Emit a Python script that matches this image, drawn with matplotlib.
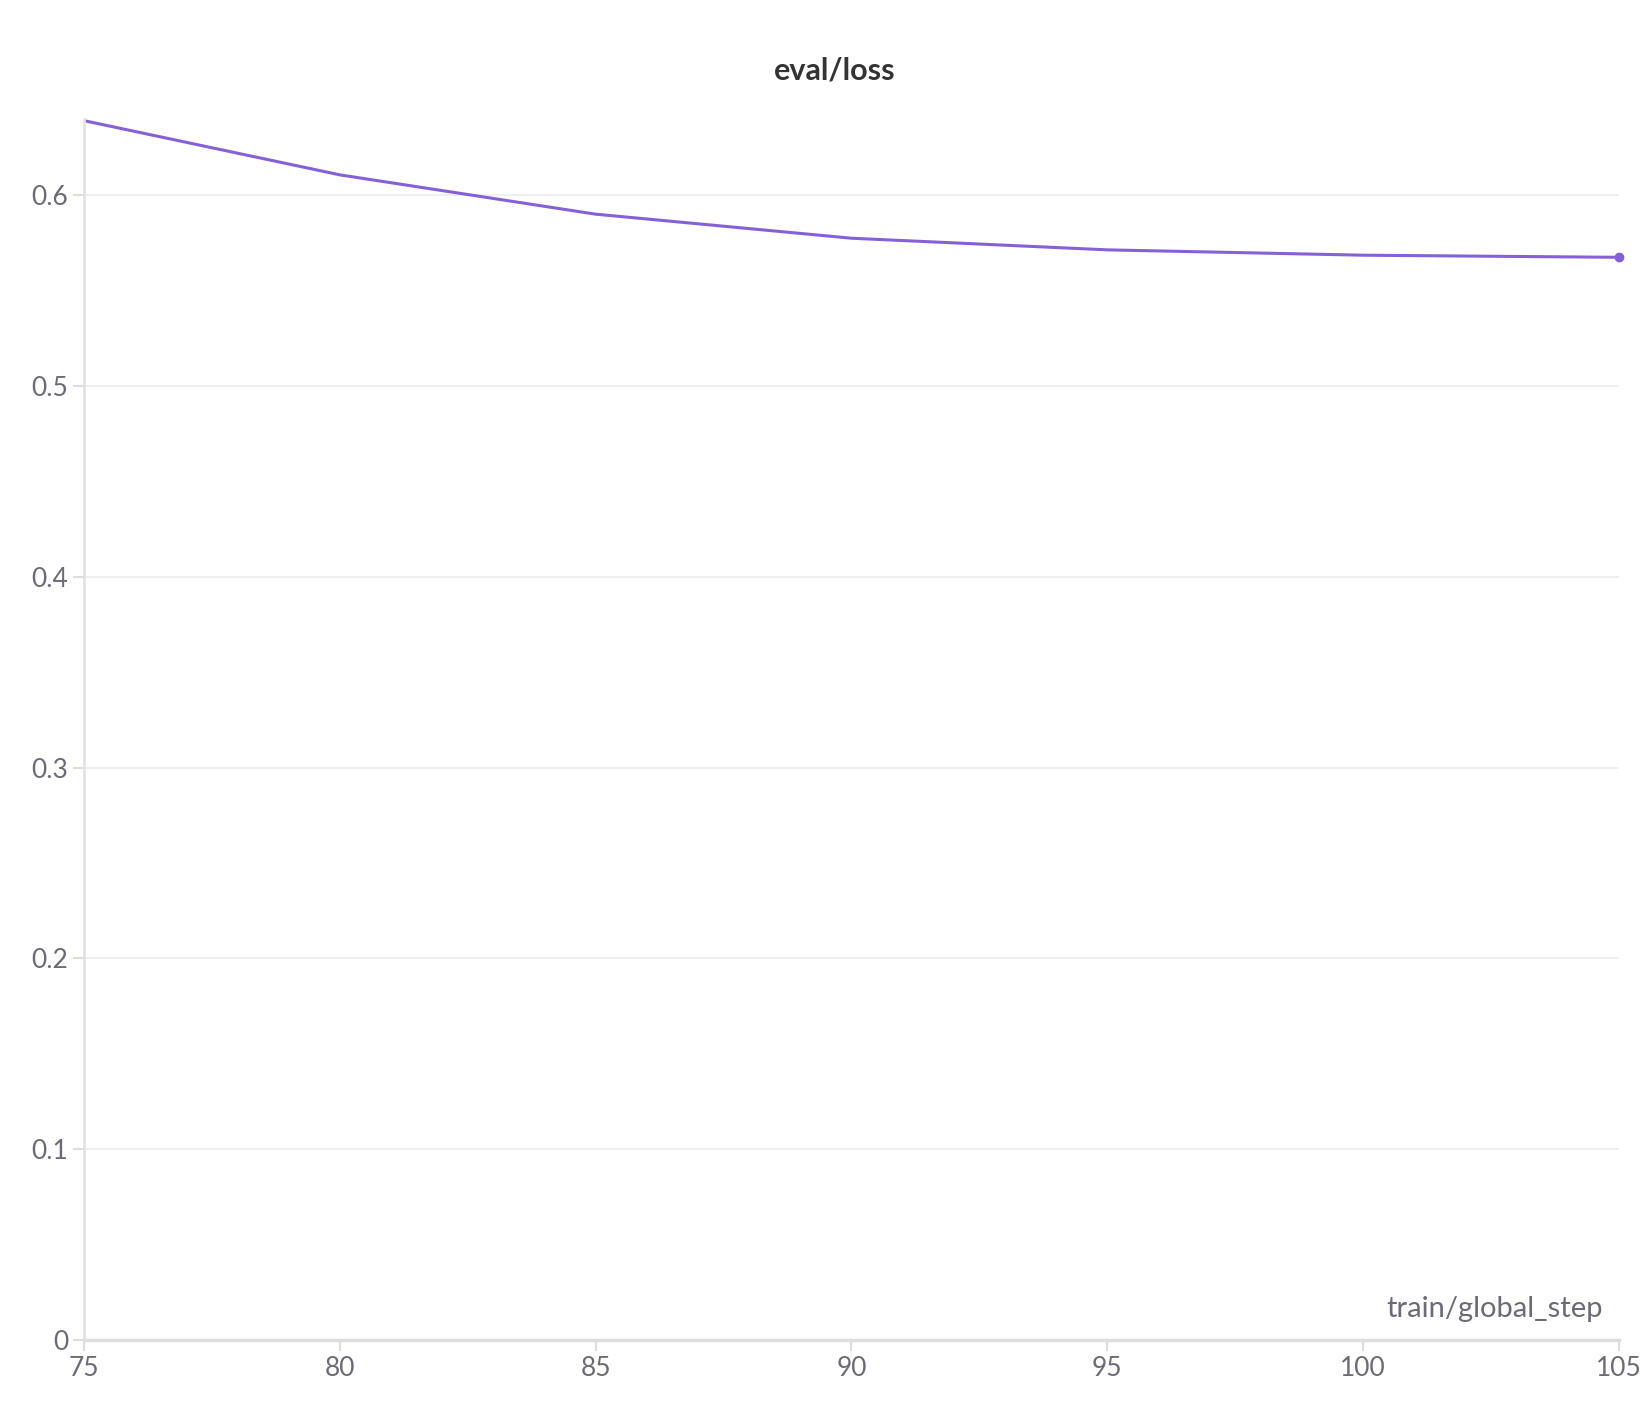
import matplotlib.pyplot as plt

steps = [75, 80, 85, 90, 95, 100, 105]
loss = [0.639, 0.6106, 0.590, 0.5774, 0.5713, 0.5685, 0.5674]
yticks = [0, 0.1, 0.2, 0.3, 0.4, 0.5, 0.6]
ytick_labels = ["0", "0.1", "0.2", "0.3", "0.4", "0.5", "0.6"]

plt.rcParams['font.family'] = ['Lato', 'DejaVu Sans']
fig = plt.figure(figsize=(16.5, 14.14), dpi=100)
ax = fig.add_axes([0.051, 0.0524, 0.930, 0.8636])

color = "#8660d6"
ax.plot(steps, loss, color=color, lw=2.2)
ax.plot(steps[-1], loss[-1], "o", color=color, ms=6, clip_on=False)

ax.set_xlim(75, 105)
ax.set_ylim(0, 0.64)
ax.set_xticks(steps)
ax.set_yticks(yticks)
ax.set_yticklabels(ytick_labels)
ax.grid(axis="y", color="#ececec", lw=1.2)
ax.tick_params(colors="#dddddd", labelcolor="#6b6b76", labelsize=19, length=8, width=1.5)
for s in ["top", "right"]:
    ax.spines[s].set_visible(False)
ax.spines["left"].set_color("#e3e3e3")
ax.spines["left"].set_linewidth(2)
ax.spines["bottom"].set_color("#dddddd")
ax.spines["bottom"].set_linewidth(2.5)
ax.text(0.99, 0.015, "train/global_step", transform=ax.transAxes, ha="right",
        va="bottom", fontsize=21, color="#6b6b76")
fig.text(0.506, 0.95, "eval/loss", ha="center", va="center", fontsize=22,
         fontweight="bold", color="#333333")

fig.savefig("out.png")
